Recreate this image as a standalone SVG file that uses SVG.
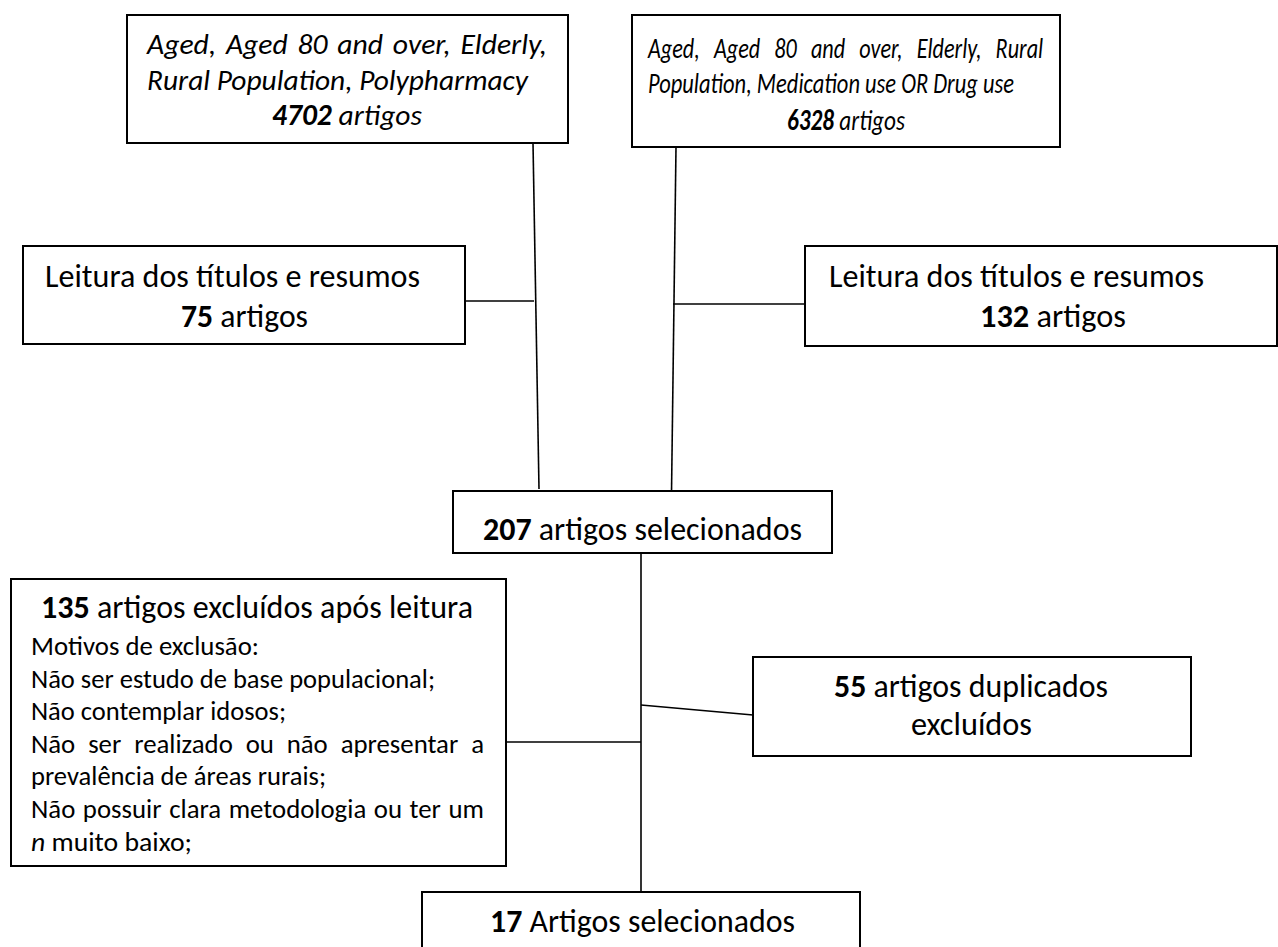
<svg xmlns="http://www.w3.org/2000/svg" width="1278" height="947" viewBox="0 0 1278 947">
<style>
.box{fill:#fff;stroke:#000;stroke-width:2}
.t{font-family:Carlito,Calibri,Lato,"Open Sans",sans-serif;fill:#000}
.it{font-style:italic}
.b{font-weight:bold}
.s32{font-size:32px}
.s29{font-size:29.3px}
.s27{font-size:26.7px}
#connectors line{stroke:#000;stroke-width:1.6;fill:none}
</style>
<rect x="0" y="0" width="1278" height="947" fill="#fff"/>
<g id="connectors">
<line x1="533" y1="143" x2="539" y2="489"/>
<line x1="676" y1="147" x2="671.5" y2="494"/>
<line x1="465" y1="301" x2="534" y2="301"/>
<line x1="673" y1="304" x2="805" y2="304"/>
<line x1="641" y1="553" x2="641" y2="892"/>
<line x1="506" y1="742" x2="641" y2="742"/>
<line x1="641" y1="705" x2="753" y2="715"/>
</g>
<g id="box-search-1">
<rect class="box" x="127" y="15" width="441" height="128"/>
<text class="t it s29" x="147" y="54" textLength="400" lengthAdjust="spacingAndGlyphs" style="word-spacing:3px">Aged, Aged 80 and over, Elderly,</text>
<text class="t it s29" x="147" y="90" textLength="381" lengthAdjust="spacingAndGlyphs">Rural Population, Polypharmacy</text>
<text class="t it s29" x="272" y="125" textLength="150" lengthAdjust="spacingAndGlyphs"><tspan class="b">4702</tspan> artigos</text>
</g>
<g id="box-search-2">
<rect class="box" x="632" y="15" width="428" height="132"/>
<g transform="scale(0.8,1)">
<text class="t it s29" x="810" y="58" textLength="494" lengthAdjust="spacingAndGlyphs" style="word-spacing:12px">Aged, Aged 80 and over, Elderly, Rural</text>
<text class="t it s29" x="810" y="93" textLength="457.5" lengthAdjust="spacingAndGlyphs">Population, Medication use OR Drug use</text>
<text class="t it s29" x="983.75" y="130" textLength="147.5" lengthAdjust="spacingAndGlyphs"><tspan class="b">6328</tspan> artigos</text>
</g>
</g>
<g id="box-reading-1">
<rect class="box" x="23" y="246" width="442" height="98"/>
<text class="t s32" x="45" y="287" textLength="375" lengthAdjust="spacingAndGlyphs">Leitura dos títulos e resumos</text>
<text class="t s32" x="181" y="327" textLength="127" lengthAdjust="spacingAndGlyphs"><tspan class="b">75</tspan> artigos</text>
</g>
<g id="box-reading-2">
<rect class="box" x="805" y="246" width="472" height="100"/>
<text class="t s32" x="829" y="287" textLength="375" lengthAdjust="spacingAndGlyphs">Leitura dos títulos e resumos</text>
<text class="t s32" x="980" y="327" textLength="146" lengthAdjust="spacingAndGlyphs"><tspan class="b">132</tspan> artigos</text>
</g>
<g id="box-selected-207">
<rect class="box" x="453" y="491" width="379" height="62"/>
<text class="t s32" x="483" y="540" textLength="319" lengthAdjust="spacingAndGlyphs"><tspan class="b">207</tspan> artigos selecionados</text>
</g>
<g id="box-excluded-135">
<rect class="box" x="11" y="579" width="495" height="287"/>
<text class="t s32" x="41" y="618" textLength="432" lengthAdjust="spacingAndGlyphs"><tspan class="b">135</tspan> artigos excluídos após leitura</text>
<text class="t s27" x="31" y="655" textLength="228" lengthAdjust="spacingAndGlyphs">Motivos de exclusão:</text>
<text class="t s27" x="31" y="687.6" textLength="404" lengthAdjust="spacingAndGlyphs">Não ser estudo de base populacional;</text>
<text class="t s27" x="31" y="720.2" textLength="255" lengthAdjust="spacingAndGlyphs">Não contemplar idosos;</text>
<text class="t s27" x="31" y="752.8" textLength="453" lengthAdjust="spacingAndGlyphs" style="word-spacing:6.8px">Não ser realizado ou não apresentar a</text>
<text class="t s27" x="31" y="785.4" textLength="295" lengthAdjust="spacingAndGlyphs">prevalência de áreas rurais;</text>
<text class="t s27" x="31" y="818" textLength="453" lengthAdjust="spacingAndGlyphs" style="word-spacing:1.5px">Não possuir clara metodologia ou ter um</text>
<text class="t s27" x="31" y="850.6" textLength="161" lengthAdjust="spacingAndGlyphs"><tspan class="it">n</tspan> muito baixo;</text>
</g>
<g id="box-duplicates-55">
<rect class="box" x="753" y="657" width="438" height="99"/>
<text class="t s32" x="834" y="697" textLength="274" lengthAdjust="spacingAndGlyphs"><tspan class="b">55</tspan> artigos duplicados</text>
<text class="t s32" x="911" y="735" textLength="121" lengthAdjust="spacingAndGlyphs">excluídos</text>
</g>
<g id="box-final-17">
<rect class="box" x="422" y="892" width="438" height="70"/>
<text class="t s32" x="490" y="932" textLength="305" lengthAdjust="spacingAndGlyphs"><tspan class="b">17</tspan> Artigos selecionados</text>
</g>
</svg>
